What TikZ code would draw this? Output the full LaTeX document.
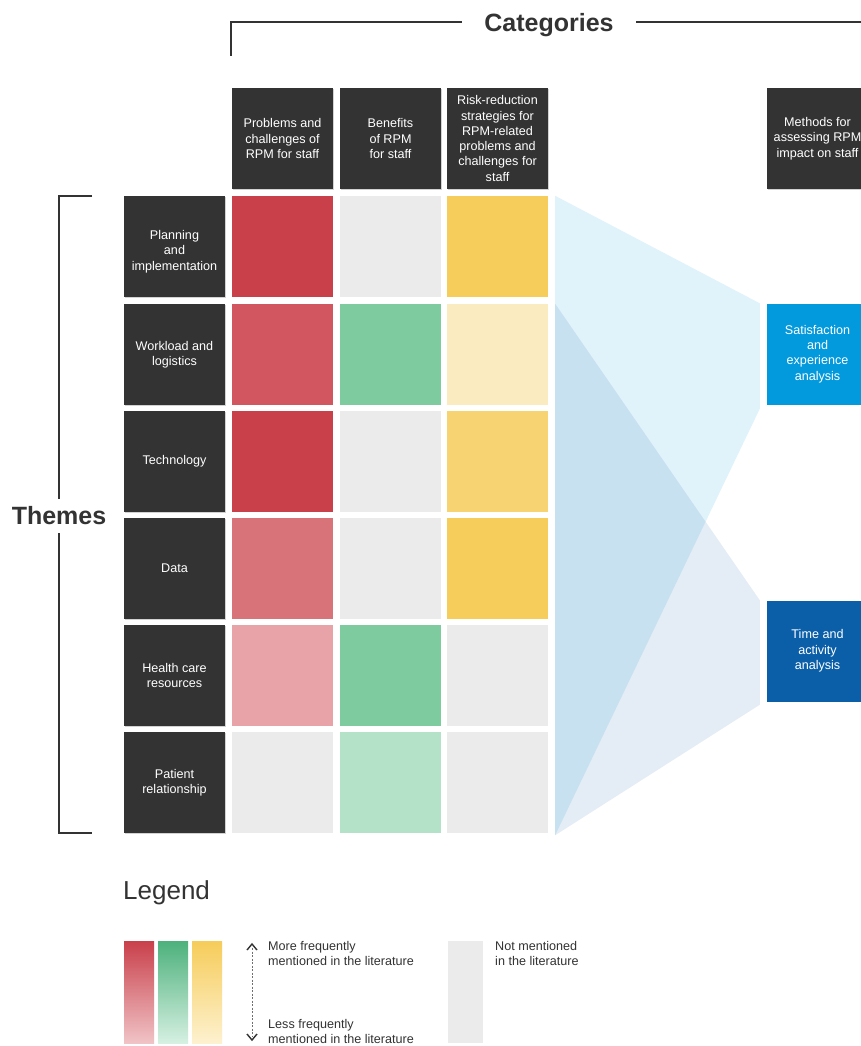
\documentclass[tikz,border=0pt]{standalone}
\usepackage{fontspec}
\setmainfont{Liberation Sans}
\usetikzlibrary{calc,shadows}
\definecolor{boxdark}{HTML}{333333}
\definecolor{redA}{HTML}{C9404B}
\definecolor{redB}{HTML}{D1565F}
\definecolor{redC}{HTML}{D8737A}
\definecolor{redD}{HTML}{E8A3A8}
\definecolor{greyC}{HTML}{EBEBEB}
\definecolor{greenA}{HTML}{7ECBA0}
\definecolor{greenB}{HTML}{B4E2C8}
\definecolor{greenL}{HTML}{4DB17C}
\definecolor{greenLL}{HTML}{D6F0E2}
\definecolor{redLL}{HTML}{F0C3C6}
\definecolor{yelLL}{HTML}{FDF1CF}
\definecolor{yelA}{HTML}{F6CC5A}
\definecolor{yelB}{HTML}{F7D371}
\definecolor{yelC}{HTML}{FBEBC0}
\definecolor{blueS}{HTML}{0399DD}
\definecolor{blueT}{HTML}{0B5FA8}
\definecolor{fanA}{HTML}{009ADE}
\definecolor{fanB}{HTML}{0B5FA5}
\definecolor{linegrey}{HTML}{333333}
\tikzset{
  cell/.style={minimum width=101pt,minimum height=101pt,inner sep=0pt,draw=none},
  boxtext/.style={text=white,align=center,font=\fontsize{12.6}{15.3}\selectfont},
  darkbox/.style={cell,fill=boxdark,boxtext,
    drop shadow={shadow xshift=1pt,shadow yshift=-1pt,opacity=0.35}},
  bluebox/.style={cell,boxtext},
  bracket/.style={draw=linegrey,line width=1.3pt},
  bigtitle/.style={font=\fontsize{25}{29}\selectfont\bfseries,text=linegrey},
  legtext/.style={font=\fontsize{12.6}{15.5}\selectfont,align=left,anchor=north west,inner sep=0pt,text=linegrey},
}
\begin{document}
\begin{tikzpicture}[x=1pt,y=-1pt]
\clip (0,0) rectangle (861,1046);
\fill[white] (0,0) rectangle (861,1046);

% header boxes
\node[darkbox] (h1) at (282.5,138.5) {Problems and\\challenges of\\RPM for staff};
\node[darkbox] (h2) at (390.5,138.5) {Benefits\\of RPM\\for staff};
\node[darkbox] (h3) at (497.5,138.5) {Risk-reduction\\strategies for\\RPM-related\\problems and\\challenges for\\staff};
\node[darkbox] (h4) at (817.5,138.5) {Methods for\\assessing RPM\\impact on staff};

% theme labels
\node[darkbox] (t1) at (174.5,246.5) {};
\node[boxtext] (t1text) at ($(t1.center)+(0,5)$) {Planning\\and\\implementation};
\node[darkbox] (t2) at (174.5,354.5) {Workload and\\logistics};
\node[darkbox] (t3) at (174.5,461.5) {Technology};
\node[darkbox] (t4) at (174.5,568.5) {Data};
\node[darkbox] (t5) at (174.5,675.5) {Health care\\resources};
\node[darkbox] (t6) at (174.5,782.5) {Patient\\relationship};

% cells
\node[cell,fill=redA]   (c11) at (282.5,246.5) {};
\node[cell,fill=greyC]  (c12) at (390.5,246.5) {};
\node[cell,fill=yelA]   (c13) at (497.5,246.5) {};
\node[cell,fill=redB]   (c21) at (282.5,354.5) {};
\node[cell,fill=greenA] (c22) at (390.5,354.5) {};
\node[cell,fill=yelC]   (c23) at (497.5,354.5) {};
\node[cell,fill=redA]   (c31) at (282.5,461.5) {};
\node[cell,fill=greyC]  (c32) at (390.5,461.5) {};
\node[cell,fill=yelB]   (c33) at (497.5,461.5) {};
\node[cell,fill=redC]   (c41) at (282.5,568.5) {};
\node[cell,fill=greyC]  (c42) at (390.5,568.5) {};
\node[cell,fill=yelA]   (c43) at (497.5,568.5) {};
\node[cell,fill=redD]   (c51) at (282.5,675.5) {};
\node[cell,fill=greenA] (c52) at (390.5,675.5) {};
\node[cell,fill=greyC]  (c53) at (497.5,675.5) {};
\node[cell,fill=greyC]  (c61) at (282.5,782.5) {};
\node[cell,fill=greenB] (c62) at (390.5,782.5) {};
\node[cell,fill=greyC]  (c63) at (497.5,782.5) {};

% method boxes
\node[bluebox,fill=blueS] (m1) at (817.5,354) {Satisfaction\\and\\experience\\analysis};
\node[bluebox,fill=blueT] (m2) at (817.5,651) {Time and\\activity\\analysis};

% fans
\fill[fanA,fill opacity=0.12] ($(c13.north east)+(7,0)$) -- ($(m1.north west)+(-7,0)$) -- ($(m1.south west)+(-7,4)$) -- ($(c63.south east)+(7,2)$) -- cycle;
\fill[fanB,fill opacity=0.11] ($(c23.north east)+(7,0)$) -- ($(m2.north west)+(-7,0)$) -- ($(m2.south west)+(-7,3)$) -- ($(c63.south east)+(7,2)$) -- cycle;

% Categories bracket
\draw[bracket] (231,56) -- (231,22) -- (861,22);
\node[bigtitle,fill=white,inner xsep=22pt,inner ysep=2pt] (cat) at (549,25) {Categories};

% Themes bracket
\draw[bracket] (92,196) -- (59,196) -- (59,833) -- (92,833);
\node[bigtitle,fill=white,inner xsep=2pt,inner ysep=8pt] (thm) at (59,516) {Themes};

% Legend
\node[font=\fontsize{26}{30}\selectfont,text=linegrey,anchor=west,inner sep=0pt] (leg) at (123,893) {Legend};
\shade[top color=redA,bottom color=redLL] (124,941) rectangle (154,1043);
\shade[top color=greenL,bottom color=greenLL] (158,941) rectangle (188,1043);
\shade[top color=yelA,bottom color=yelLL] (192,941) rectangle (222,1043);
\coordinate (atop) at (252,948);
\coordinate (abot) at (252,1036);
\draw[linegrey!70,line width=0.5pt,dash pattern=on 2pt off 1.5pt] (atop) -- (abot);
\draw[linegrey,line width=1.4pt] ($(atop)+(-5,2)$) -- ($(atop)+(0,-4)$) -- ($(atop)+(5,2)$);
\draw[linegrey,line width=1.4pt] ($(abot)+(-5,-2)$) -- ($(abot)+(0,4)$) -- ($(abot)+(5,-2)$);
\node[legtext] (lmore) at (268,941) {More frequently\\mentioned in the literature};
\node[legtext] (lless) at (268,1019) {Less frequently\\mentioned in the literature};
\node[cell,fill=greyC,minimum width=35pt,minimum height=102pt,anchor=north west] (lgrey) at (448,941) {};
\node[legtext] (lnot) at (495,941) {Not mentioned\\in the literature};
\end{tikzpicture}
\end{document}
